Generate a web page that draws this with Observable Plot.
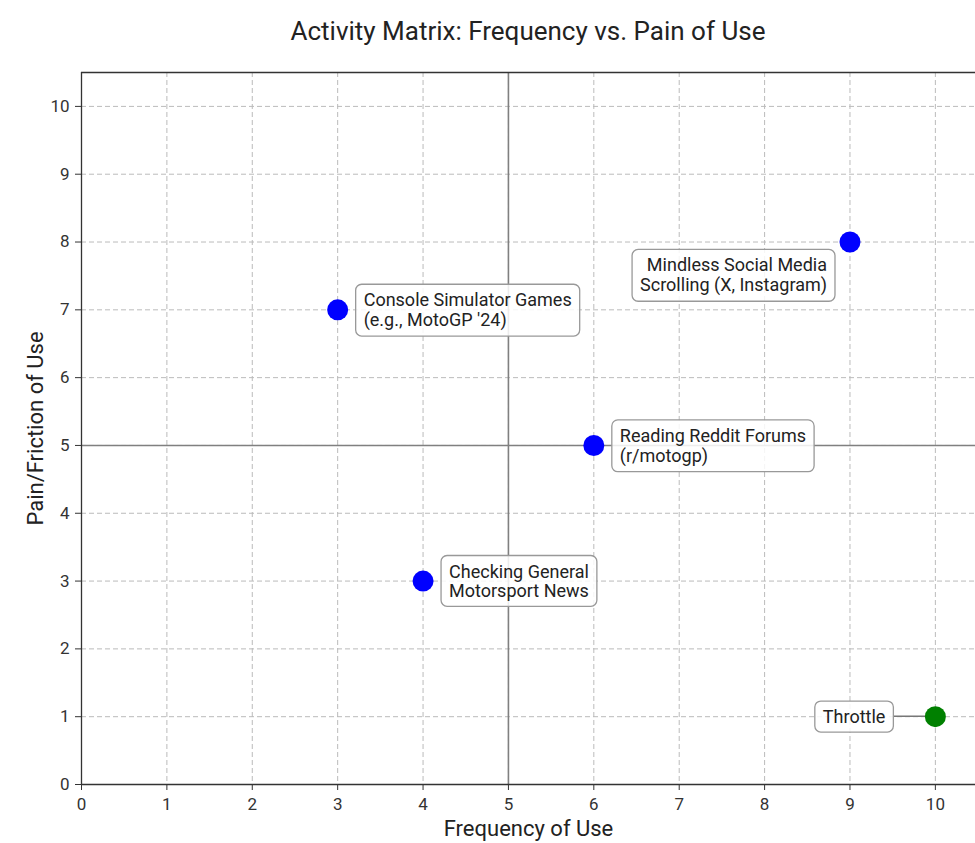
<!DOCTYPE html>
<html>
<head>
<meta charset="utf-8">
<script src="https://cdn.jsdelivr.net/npm/d3@7"></script>
<script src="https://cdn.jsdelivr.net/npm/@observablehq/plot@0.6"></script>
<style>
  html, body { margin: 0; padding: 0; background: #fff; }
  body { width: 975px; height: 843px; overflow: hidden; font-family: Roboto, "Noto Sans", sans-serif; }
  #title { height: 60px; box-sizing: border-box; padding-left: 81px; text-align: center;
           font-size: 26px; color: #222; line-height: 62px; }
</style>
</head>
<body>
<div id="title">Activity Matrix: Frequency vs. Pain of Use</div>
<div id="chart"></div>
<script>
const activities = [
  "Console Simulator Games\n(e.g., MotoGP '24)",
  "Mindless Social Media\nScrolling (X, Instagram)",
  "Reading Reddit Forums\n(r/motogp)",
  "Checking General\nMotorsport News",
  "Throttle"
];
const frequency = [3, 9, 6, 4, 10];
const pain = [7, 8, 5, 3, 1];
const group = ["other", "other", "other", "other", "throttle"];
const xTicks = [0, 1, 2, 3, 4, 5, 6, 7, 8, 9, 10];
const yTicks = [0, 1, 2, 3, 4, 5, 6, 7, 8, 9, 10];
const midX = [5];
const midY = [5];

const data = activities.map((name, i) => ({name, x: frequency[i], y: pain[i], group: group[i]}));
const pick = (i) => [data[i]];

const font = "Roboto, 'Noto Sans', sans-serif";
const labelStyle = {x: "x", y: "y", text: "name", fontSize: 18, lineHeight: 1.1, lineAnchor: "middle", fill: "#222", fontFamily: font};
const fmt = (d) => String(d);

const chart = Plot.plot({
  width: 975,
  height: 783,
  marginLeft: 81,
  marginRight: 0,
  marginTop: 12,
  marginBottom: 59,
  style: {fontFamily: font, fontSize: "17px", color: "#333", background: "white", overflow: "visible"},
  x: {domain: [0, 10.47], ticks: xTicks, label: null},
  y: {domain: [0, 10.5], ticks: yTicks, label: null},
  color: {domain: ["other", "throttle"], range: ["#0000ff", "#008000"]},
  marks: [
    Plot.gridX(xTicks, {stroke: "#bbb", strokeOpacity: 1, strokeDasharray: "5,3", strokeWidth: 1}),
    Plot.gridY(yTicks, {stroke: "#bbb", strokeOpacity: 1, strokeDasharray: "5,3", strokeWidth: 1}),
    Plot.ruleX(midX, {stroke: "#808080", strokeWidth: 1.6}),
    Plot.ruleY(midY, {stroke: "#808080", strokeWidth: 1.6}),
    Plot.ruleX([0], {stroke: "#333", strokeWidth: 1.3}),
    Plot.ruleY([0, 10.5], {stroke: "#333", strokeWidth: 1.3}),
    Plot.axisX(xTicks, {tickSize: 6, tickPadding: 7, fontSize: 17, fill: "#333", stroke: "#333", tickFormat: fmt, label: null}),
    Plot.axisY(yTicks, {tickSize: 6, tickPadding: 6, fontSize: 17, fill: "#333", stroke: "#333", tickFormat: fmt, label: null}),
    Plot.text(["Frequency of Use"], {frameAnchor: "bottom", lineAnchor: "middle", dy: 44, fontSize: 22, fill: "#222"}),
    Plot.text(["Pain/Friction of Use"], {frameAnchor: "left", textAnchor: "middle", lineAnchor: "middle", dx: -46, rotate: -90, fontSize: 22, fill: "#222"}),
    Plot.dot(data, {x: "x", y: "y", r: 10.5, fill: "group", stroke: "none"}),
    Plot.text(pick(0), {...labelStyle, textAnchor: "start", dx: 26, dy: 0}),
    Plot.text(pick(1), {...labelStyle, textAnchor: "end", dx: -23, dy: 33}),
    Plot.text(pick(2), {...labelStyle, textAnchor: "start", dx: 26, dy: 0}),
    Plot.text(pick(3), {...labelStyle, textAnchor: "start", dx: 26, dy: 0}),
    Plot.text(pick(4), {...labelStyle, textAnchor: "end", dx: -50, dy: 0})
  ]
});
document.getElementById("chart").appendChild(chart);

// Callout boxes behind the label texts
const labelSet = new Map(activities.map(a => [a.replace(/\n/g, ""), a]));
const svg = d3.select(chart);
const svgRect = chart.getBoundingClientRect();
svg.selectAll("text").each(function() {
  const t = this.textContent;
  if (!labelSet.has(t)) return;
  const bb = this.getBBox();
  const padX = 8, padY = 5;
  const rect = document.createElementNS("http://www.w3.org/2000/svg", "rect");
  rect.setAttribute("x", bb.x - padX);
  rect.setAttribute("y", bb.y - padY);
  rect.setAttribute("width", bb.width + 2 * padX);
  rect.setAttribute("height", bb.height + 2 * padY);
  rect.setAttribute("rx", 6);
  rect.setAttribute("fill", "white");
  rect.setAttribute("fill-opacity", 0.85);
  rect.setAttribute("stroke", "#999");
  rect.setAttribute("stroke-width", 1.3);
  const tr = this.getAttribute("transform");
  if (tr) rect.setAttribute("transform", tr);
  this.parentNode.insertBefore(rect, this);
  if (t === "Throttle") {
    const r = rect.getBoundingClientRect();
    const idx = activities.indexOf("Throttle");
    const cx = chart.scale("x").apply(frequency[idx]);
    const cy = chart.scale("y").apply(pain[idx]);
    const line = document.createElementNS("http://www.w3.org/2000/svg", "line");
    line.setAttribute("x1", r.right - svgRect.left);
    line.setAttribute("x2", cx);
    line.setAttribute("y1", cy);
    line.setAttribute("y2", cy);
    line.setAttribute("stroke", "#777");
    line.setAttribute("stroke-width", 1.5);
    const dots = svg.select('g[aria-label="dot"]').node();
    chart.insertBefore(line, dots);
  }
});
</script>
</body>
</html>
